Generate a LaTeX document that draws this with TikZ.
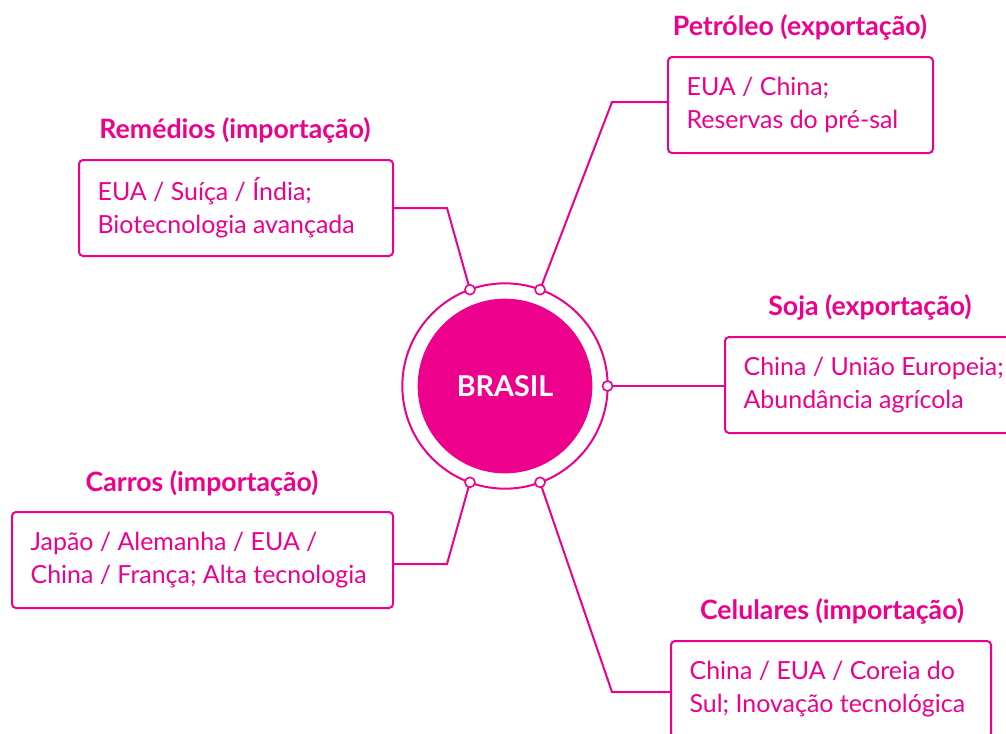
\documentclass[tikz,border=0pt]{standalone}
\usepackage{fontspec}
\setmainfont{Lato}
\definecolor{mag}{RGB}{236,0,140}
\begin{document}
\begin{tikzpicture}[x=0.75pt,y=-0.75pt,
  box/.style={draw=mag,line width=1.5pt,rounded corners=3pt,minimum height=72pt,anchor=west,inner sep=0pt},
  txt/.style={text=mag,align=left,font=\fontsize{18.7}{25}\selectfont,anchor=west,inner sep=0pt},
  ttl/.style={text=mag,font=\fontsize{20}{22}\selectfont\bfseries},
  conn/.style={draw=mag,line width=1.5pt},
  dot/.style={circle,draw=mag,fill=white,line width=1.2pt,inner sep=0pt,minimum size=7.5pt}]
\useasboundingbox (0,0) rectangle (1006,733);
\coordinate (c) at (505,386);
\node[circle,fill=mag,minimum size=131pt,inner sep=0pt,text=white,font=\fontsize{21.5}{24}\selectfont\bfseries] (core) at (c) {BRASIL};
\node[circle,draw=mag,line width=1.5pt,minimum size=154pt,inner sep=0pt] (ring) at (c) {};
% boxes
\node[box,minimum width=235.5pt] (rem) at (78,208) {};
\node[box,minimum width=198.75pt] (pet) at (667,105) {};
\node[box,minimum width=222pt] (soj) at (724,385) {};
\node[box,minimum width=285.75pt] (car) at (11,560) {};
\node[box,minimum width=240pt] (cel) at (670,689) {};
\node[txt] (xrem) at ([xshift=14.5pt]rem.west) {EUA / Suíça / Índia;\\Biotecnologia avançada};
\node[txt] (xpet) at ([xshift=14.5pt]pet.west) {EUA / China;\\Reservas do pré-sal};
\node[txt] (xsoj) at ([xshift=14.5pt]soj.west) {China / União Europeia;\\Abundância agrícola};
\node[txt] (xcar) at ([xshift=14.5pt]car.west) {Japão / Alemanha / EUA /\\China / França; Alta tecnologia};
\node[txt] (xcel) at ([xshift=14.5pt]cel.west) {China / EUA / Coreia do\\Sul; Inovação tecnológica};
% titles
\node[ttl] (trem) at (235,130) {Remédios (importação)};
\node[ttl] (tpet) at (800,27) {Petróleo (exportação)};
\node[ttl] (tsoj) at (870,307) {Soja (exportação)};
\node[ttl] (tcar) at (202,483) {Carros (importação)};
\node[ttl] (tcel) at (832,611) {Celulares (importação)};
% connectors
\coordinate (k1) at (447,208);
\coordinate (k2) at (612,102);
\coordinate (k4) at (447,564);
\coordinate (k5) at (612,692);
\path (c) ++(250:102.5) coordinate (p1);
\path (c) ++(290:102.5) coordinate (p2);
\path (c) ++(0:102.5) coordinate (p3);
\path (c) ++(110:102.5) coordinate (p4);
\path (c) ++(70:102.5) coordinate (p5);
\draw[conn] (p1) -- (k1) -- (k1 -| rem.east);
\draw[conn] (p2) -- (k2) -- (k2 -| pet.west);
\draw[conn] (p3) -- (p3 -| soj.west);
\draw[conn] (p4) -- (k4) -- (k4 -| car.east);
\draw[conn] (p5) -- (k5) -- (k5 -| cel.west);
\node[dot] (d1) at (p1) {};
\node[dot] (d2) at (p2) {};
\node[dot] (d3) at (p3) {};
\node[dot] (d4) at (p4) {};
\node[dot] (d5) at (p5) {};
\end{tikzpicture}
\end{document}
